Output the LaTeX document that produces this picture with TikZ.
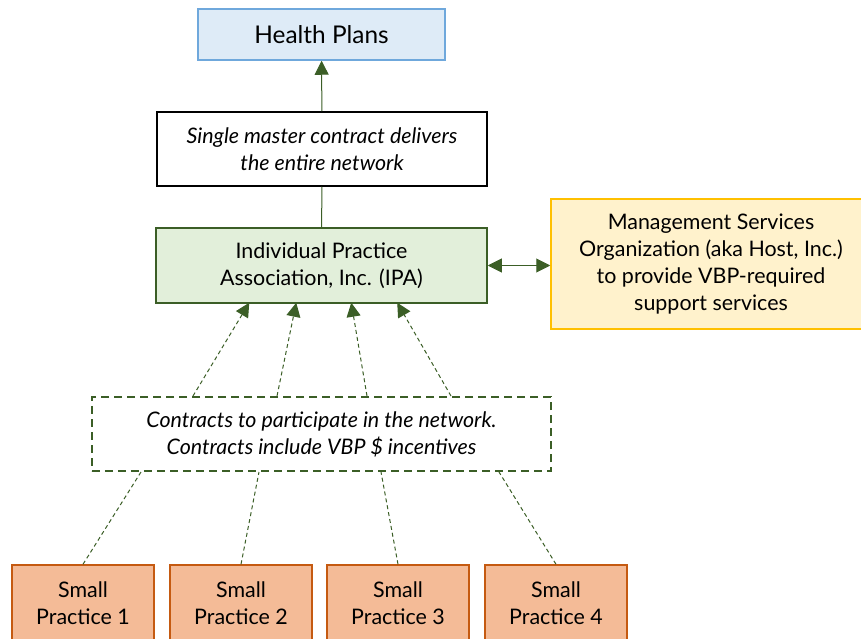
\documentclass[tikz,border=0pt]{standalone}
\usepackage{fontspec}
\setmainfont{Lato}
\usetikzlibrary{arrows.meta}
\definecolor{dgreen}{HTML}{3B5E26}
\definecolor{bluefill}{HTML}{DEEBF7}
\definecolor{blueline}{HTML}{6FA8DC}
\definecolor{greenfill}{HTML}{E2EFDA}
\definecolor{yellowfill}{HTML}{FFF2CC}
\definecolor{yellowline}{HTML}{FFC000}
\definecolor{orangefill}{HTML}{F4BB97}
\definecolor{orangeline}{HTML}{C55A11}
\tikzset{
  box/.style={draw, line width=1.5bp, align=center, inner sep=0pt,
    font=\fontsize{21.5}{27}\selectfont},
  conn/.style={draw=dgreen, line width=1bp},
  tip/.style={-{Triangle[length=14bp,width=14bp]}},
  dconn/.style={conn, dash pattern=on 4bp off 3bp},
}
\begin{document}
\begin{tikzpicture}[x=1bp,y=-1bp]
\useasboundingbox (0,0) rectangle (861,639);
\clip (0,0) rectangle (861,639);
\node[box, draw=blueline, fill=bluefill, minimum width=247bp, minimum height=51bp, font=\fontsize{24.5}{28}\selectfont] (hp) at (321.5,34.5) {Health Plans};
\node[box, draw=black, fill=white, minimum width=330bp, minimum height=74bp, font=\fontsize{21.5}{27}\selectfont\itshape] (mc) at (322,149) {Single master contract delivers\\the entire network};
\node[box, draw=dgreen, fill=greenfill, minimum width=331bp, minimum height=75bp] (ipa) at (321.5,265.5) {Individual Practice\\Association, Inc. (IPA)};
\node[box, draw=yellowline, fill=yellowfill, minimum width=320bp, minimum height=130bp] (mso) at (711,264) {Management Services\\Organization (aka Host, Inc.)\\to provide VBP-required\\support services};
\node[box, draw=dgreen, line width=2bp, dash pattern=on 8bp off 5bp, minimum width=459bp, minimum height=74bp, font=\fontsize{21.5}{27}\selectfont\itshape] (dash) at (321.5,434) {Contracts to participate in the network.\\Contracts include VBP \$ incentives};
\foreach \i/\x in {1/83,2/241,3/398,4/556}{
  \node[box, draw=orangeline, fill=orangefill, minimum width=142bp, minimum height=76bp] (sp\i) at (\x,603) {Small\\Practice \i};
}
\draw[conn, tip] (mc) -- (hp);
\draw[conn] (ipa) -- (mc);
\draw[conn, {Triangle[length=14bp,width=14bp]}-{Triangle[length=14bp,width=14bp]}] (ipa.east) -- (mso.west |- ipa.east);
\draw[dconn, tip] ([xshift=102bp]dash.north west) -- ([xshift=94bp,yshift=1bp]ipa.south west);
\draw[dconn, tip] ([xshift=186bp]dash.north west) -- ([xshift=141bp,yshift=1bp]ipa.south west);
\draw[dconn, tip] ([xshift=276bp]dash.north west) -- ([xshift=196bp,yshift=1bp]ipa.south west);
\draw[dconn, tip] ([xshift=360bp]dash.north west) -- ([xshift=242bp,yshift=1bp]ipa.south west);
\draw[dconn] (sp1.north) -- ([xshift=50bp]dash.south west);
\draw[dconn] (sp2.north) -- ([xshift=168bp]dash.south west);
\draw[dconn] (sp3.north) -- ([xshift=290bp]dash.south west);
\draw[dconn] (sp4.north) -- ([xshift=408bp]dash.south west);
\end{tikzpicture}
\end{document}
